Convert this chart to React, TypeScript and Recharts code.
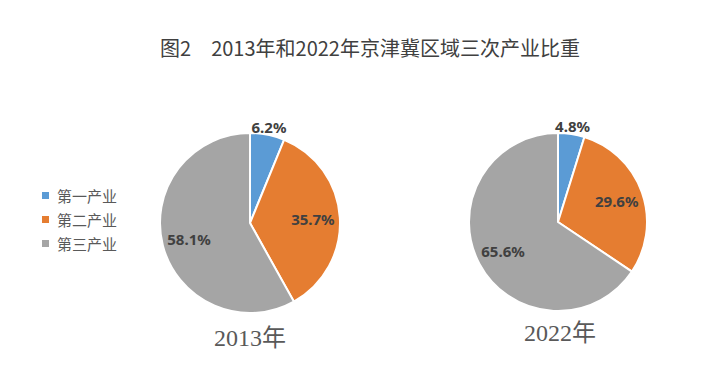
import React from 'react';
import { PieChart, Pie, Cell, Legend } from 'recharts';

// 三次产业占比（%）
const industries = ['第一产业', '第二产业', '第三产业'];
const share2013 = [6.2, 35.7, 58.1];
const share2022 = [4.8, 29.6, 65.6];
const years = ['2013年', '2022年'];
const colors = ['#5B9BD5', '#E57D31', '#A5A5A5'];

const data2013 = industries.map((name, i) => ({ name, value: share2013[i] }));
const data2022 = industries.map((name, i) => ({ name, value: share2022[i] }));

const RADIAN = Math.PI / 180;

const renderLabel = (props: any) => {
  const { cx, cy, midAngle, outerRadius, percent, value } = props;
  // small slices get their label just outside the rim
  const r = percent < 0.1 ? outerRadius + 8 : outerRadius * 0.7;
  const x = cx + r * Math.cos(-midAngle * RADIAN);
  const y = cy + r * Math.sin(-midAngle * RADIAN);
  return (
    <text
      x={x}
      y={y}
      fill="#404040"
      textAnchor="middle"
      dominantBaseline="central"
      fontSize={15}
      fontWeight="bold"
      fontFamily="'Noto Sans', sans-serif"
    >
      {`${value.toFixed(1)}%`}
    </text>
  );
};

const renderLegend = () => (
  <div style={{ fontFamily: "'Noto Sans CJK SC', sans-serif", fontSize: 15, color: '#595959' }}>
    {industries.map((name, i) => (
      <div key={name} style={{ display: 'flex', alignItems: 'center', height: 24 }}>
        <span style={{ width: 7, height: 7, background: colors[i], marginRight: 8, display: 'inline-block' }} />
        {name}
      </div>
    ))}
  </div>
);

const yearStyle: React.CSSProperties = {
  position: 'absolute',
  width: 120,
  textAlign: 'center',
  fontFamily: "'Liberation Serif', 'Noto Sans CJK SC', serif",
  fontSize: 24,
  lineHeight: '24px',
  color: '#595959',
};

export default function App() {
  return (
    <div style={{ position: 'absolute', left: 0, top: 0, width: 704, height: 385, background: '#fff' }}>
      <div
        style={{
          position: 'absolute',
          left: 120,
          top: 36,
          width: 500,
          textAlign: 'center',
          fontFamily: "'Noto Sans CJK SC', sans-serif",
          fontSize: 20,
          lineHeight: '24px',
          color: '#404040',
          whiteSpace: 'pre',
        }}
      >
        图2　2013年和2022年京津冀区域三次产业比重
      </div>

      <PieChart width={704} height={385} margin={{ top: 0, right: 0, bottom: 0, left: 0 }}>
        <Pie
          data={data2013}
          dataKey="value"
          nameKey="name"
          cx={250}
          cy={223}
          outerRadius={90}
          startAngle={90}
          endAngle={-270}
          stroke="#fff"
          strokeWidth={2}
          label={renderLabel}
          labelLine={false}
          isAnimationActive={false}
        >
          {data2013.map((d, i) => (
            <Cell key={d.name} fill={colors[i]} />
          ))}
        </Pie>
        <Pie
          data={data2022}
          dataKey="value"
          nameKey="name"
          cx={558}
          cy={222}
          outerRadius={89}
          startAngle={90}
          endAngle={-270}
          stroke="#fff"
          strokeWidth={2}
          label={renderLabel}
          labelLine={false}
          isAnimationActive={false}
        >
          {data2022.map((d, i) => (
            <Cell key={d.name} fill={colors[i]} />
          ))}
        </Pie>
        <Legend
          content={renderLegend}
          wrapperStyle={{ position: 'absolute', left: 42, top: 183, width: 110, height: 72 }}
        />
      </PieChart>

      <div style={{ ...yearStyle, left: 250 - 60, top: 326 }}>{years[0]}</div>
      <div style={{ ...yearStyle, left: 560 - 60, top: 321 }}>{years[1]}</div>
    </div>
  );
}
